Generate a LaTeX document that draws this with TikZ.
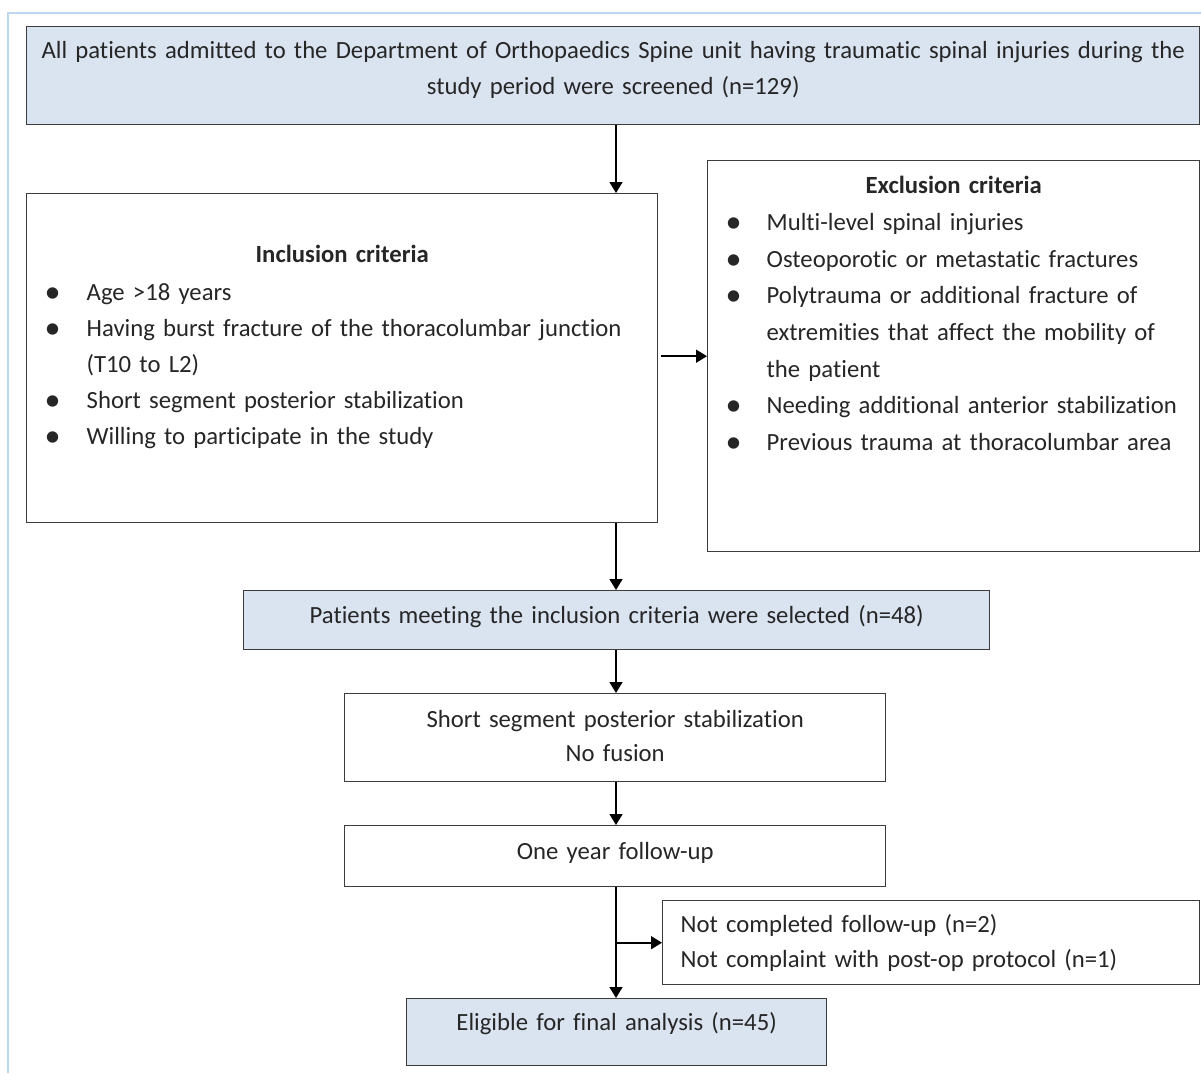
\documentclass[tikz,border=0pt]{standalone}
\usepackage{fontspec}
\setmainfont[Ligatures=NoCommon]{Carlito}
\usetikzlibrary{arrows.meta}

\definecolor{boxblue}{HTML}{DAE3F0}
\definecolor{boxline}{HTML}{3C3C3C}
\definecolor{pageline}{HTML}{BDD7EE}
\definecolor{ink}{HTML}{262626}

% one bullet line, and a continuation line with the same indent
\newcommand{\critdot}{\raisebox{-2pt}{\scalebox{1.3}{\textbullet}}}
\newcommand{\critline}[2]{\mbox{\makebox[#1][l]{\critdot}#2}}
\newcommand{\critmore}[2]{\mbox{\hspace*{#1}#2}}

\begin{document}
\begin{tikzpicture}[
  x=1pt,
  y=-1pt,
  font=\fontsize{24.7}{36}\selectfont,
  text=ink,
  stagebox/.style={draw=boxline, line width=1.4pt, anchor=north west,
    inner ysep=0pt, inner xsep=0pt},
  bluebox/.style={stagebox, fill=boxblue, align=center},
  whitebox/.style={stagebox, fill=white, align=center},
  listbox/.style={stagebox, fill=white, align=left, inner xsep=18pt},
  arrow/.style={-{Triangle[length=11pt,width=13pt]}, line width=1.6pt, black}
]
  \useasboundingbox (0,0) rectangle (1201,1073);
  \draw[pageline, line width=2pt] (8,1073) -- (8,13) -- (1201,13);

  \node[bluebox, text width=1173pt, text height=32pt, text depth=66pt]
    (screen) at (26,26)
    {All patients admitted to the Department of Orthopaedics Spine unit having traumatic spinal injuries during the\\
     study period were screened (n=129)};

  \node[listbox, text width=595pt, text height=69pt, text depth=260pt]
    (incl) at (26,193)
    {\makebox[\linewidth]{\textbf{Inclusion criteria}}\\[2pt]
     \critline{42pt}{Age >18 years}\\
     \critline{42pt}{Having burst fracture of the thoracolumbar junction}\\
     \critmore{42pt}{(T10 to L2)}\\
     \critline{42pt}{Short segment posterior stabilization}\\
     \critline{42pt}{Willing to participate in the study}};

  \node[listbox, text width=456pt, text height=33pt, text depth=358pt,
    font=\fontsize{24.7}{36.7}\selectfont]
    (excl) at (707,160)
    {\makebox[\linewidth]{\textbf{Exclusion criteria}}\\
     \critline{41pt}{Multi-level spinal injuries}\\
     \critline{41pt}{Osteoporotic or metastatic fractures}\\
     \critline{41pt}{Polytrauma or additional fracture of}\\
     \critmore{41pt}{extremities that affect the mobility of}\\
     \critmore{41pt}{the patient}\\
     \critline{41pt}{Needing additional anterior stabilization}\\
     \critline{41pt}{Previous trauma at thoracolumbar area}};

  \node[bluebox, text width=746pt, text height=33pt, text depth=26pt]
    (selected) at (243,590)
    {Patients meeting the inclusion criteria were selected (n=48)};

  \node[whitebox, text width=541pt, text height=34pt, text depth=54pt,
    font=\fontsize{24.7}{34}\selectfont]
    (stab) at (344,693)
    {Short segment posterior stabilization\\ No fusion};

  \node[whitebox, text width=541pt, text height=34pt, text depth=27pt]
    (follow) at (344,825) {One year follow-up};

  \node[listbox, text width=501pt, text height=32pt, text depth=52pt,
    font=\fontsize{24.7}{35}\selectfont]
    (drop) at (662,900)
    {Not completed follow-up (n=2)\\
     Not complaint with post-op protocol (n=1)};

  \node[bluebox, text width=420pt, text height=32pt, text depth=35pt]
    (final) at (406,998) {Eligible for final analysis (n=45)};

  \coordinate (spine) at (616,0);

  \draw[arrow] (spine |- screen.south) -- (spine |- incl.north);
  \draw[arrow] ([xshift=3pt]incl.east |- excl.west) -- (excl.west);
  \draw[arrow] (spine |- incl.south) -- (spine |- selected.north);
  \draw[arrow] (spine |- selected.south) -- (spine |- stab.north);
  \draw[arrow] (spine |- stab.south) -- (spine |- follow.north);
  \draw[arrow] (spine |- follow.south) -- (spine |- final.north);
  \draw[arrow] (spine |- drop.west) -- (drop.west);
\end{tikzpicture}
\end{document}
